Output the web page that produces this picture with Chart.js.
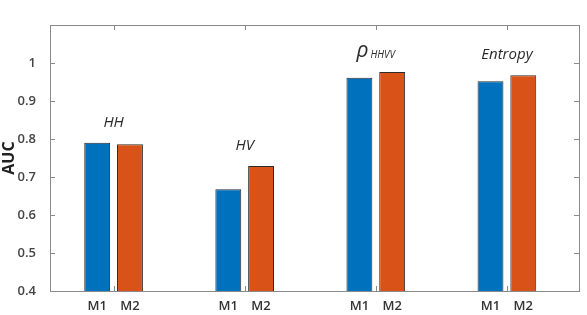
<!DOCTYPE html>
<html>
<head>
<meta charset="utf-8">
<script src="https://cdn.jsdelivr.net/npm/chart.js@4/dist/chart.umd.min.js"></script>
<style>
  html, body { margin: 0; padding: 0; background: #fff; }
  #wrap { width: 587px; height: 315px; }
</style>
</head>
<body>
<div id="wrap"><canvas id="auc"></canvas></div>
<script>
// ----- Data -----
const groups = ['HH', 'HV', 'rho', 'Entropy'];
const groupPos = [1, 2, 3, 4];
const methods = ['M1', 'M2'];
const m1Values = [0.790, 0.668, 0.961, 0.952];
const m2Values = [0.786, 0.729, 0.976, 0.968];
const yTicks = [0.4, 0.5, 0.6, 0.7, 0.8, 0.9, 1];

const colors = ['#0072BD', '#D95319'];
const TEXT = '#333';
const FONT = '"Open Sans", "Noto Sans", sans-serif';

const toPoints = vals => vals.map((v, i) => ({ x: groupPos[i], y: v }));

// frame + inward ticks + text labels, MATLAB style
const decorate = {
  id: 'decorate',
  afterDraw(chart) {
    const { ctx, chartArea: a, scales } = chart;
    const ys = scales.y, xs = scales.x;
    ctx.save();
    ctx.strokeStyle = '#8a8a8a';
    ctx.lineWidth = 1;
    ctx.strokeRect(Math.round(a.left) + 0.5, Math.round(a.top) + 0.5,
                   Math.round(a.right - a.left), Math.round(a.bottom - a.top));
    ctx.beginPath();
    yTicks.forEach(v => {
      const y = Math.round(ys.getPixelForValue(v)) + 0.5;
      ctx.moveTo(a.left, y); ctx.lineTo(a.left + 5, y);
      ctx.moveTo(a.right, y); ctx.lineTo(a.right - 5, y);
    });
    groupPos.forEach(p => {
      const x = Math.round(xs.getPixelForValue(p)) + 0.5;
      ctx.moveTo(x, a.top); ctx.lineTo(x, a.top + 5);
      ctx.moveTo(x, a.bottom); ctx.lineTo(x, a.bottom - 5);
    });
    ctx.stroke();

    // M1 / M2 under each bar
    ctx.fillStyle = TEXT;
    ctx.font = '600 13px ' + FONT;
    ctx.textAlign = 'center';
    ctx.textBaseline = 'middle';
    methods.forEach((m, d) => {
      chart.getDatasetMeta(d).data.forEach(bar => {
        ctx.fillText(m, bar.x, a.bottom + 15);
      });
    });

    // group names above bars
    const m1 = chart.getDatasetMeta(0).data, m2 = chart.getDatasetMeta(1).data;
    groups.forEach((g, i) => {
      const cx = xs.getPixelForValue(groupPos[i]);
      const top = Math.min(m1[i].y, m2[i].y);
      const y = top - 20;
      ctx.fillStyle = '#2a2a2a';
      ctx.textAlign = 'center';
      ctx.textBaseline = 'middle';
      if (g === 'rho') {
        ctx.font = 'italic 21px ' + FONT;
        const rw = ctx.measureText('ρ').width;
        ctx.font = 'italic 10px ' + FONT;
        const sw = ctx.measureText('HHVV').width;
        const x0 = cx - (rw + sw + 2) / 2;
        ctx.textAlign = 'left';
        ctx.font = 'italic 21px ' + FONT;
        ctx.fillText('ρ', x0, y - 1);
        ctx.font = 'italic 10px ' + FONT;
        ctx.fillText('HHVV', x0 + rw + 2, y + 3);
      } else {
        ctx.font = 'italic 15px ' + FONT;
        ctx.fillText(g, cx, y);
      }
    });
    ctx.restore();
  }
};

window.addEventListener('DOMContentLoaded', () => {
  new Chart(document.getElementById('auc'), {
    type: 'bar',
    data: {
      datasets: [
        { label: methods[0], data: toPoints(m1Values), backgroundColor: colors[0],
          borderColor: '#2b2b2b', borderWidth: 1 },
        { label: methods[1], data: toPoints(m2Values), backgroundColor: colors[1],
          borderColor: '#2b2b2b', borderWidth: 1 }
      ]
    },
    options: {
      responsive: true,
      maintainAspectRatio: false,
      animation: false,
      datasets: { bar: { categoryPercentage: 0.5, barPercentage: 0.79 } },
      layout: { padding: { left: 0, top: 25, right: 8, bottom: 24 } },
      plugins: { legend: { display: false }, tooltip: { enabled: false } },
      scales: {
        x: {
          type: 'linear', display: false, offset: false, min: 0.515, max: 4.55,
          afterBuildTicks: s => { s.ticks = groupPos.map(v => ({ value: v })); }
        },
        y: {
          min: 0.4, max: 1.1,
          afterFit: s => { s.width = 50; },
          afterBuildTicks: s => { s.ticks = yTicks.map(v => ({ value: v })); },
          ticks: {
            color: '#444',
            font: { family: FONT, size: 13, weight: '600' },
            padding: 6,
            callback: v => String(Math.round(v * 10) / 10)
          },
          grid: { display: false },
          border: { display: false },
          title: {
            display: true, text: 'AUC', color: '#222',
            font: { family: FONT, size: 16, weight: 'bold' },
            padding: { top: 0, bottom: 0 }
          }
        }
      }
    },
    plugins: [decorate]
  });
});
</script>
</body>
</html>
